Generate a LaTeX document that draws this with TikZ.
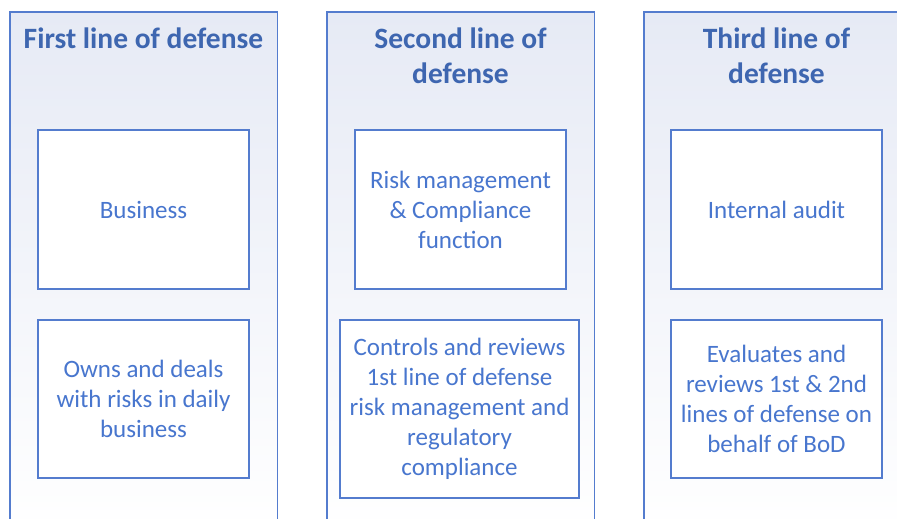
\documentclass[tikz,border=0pt]{standalone}
\usepackage{fontspec}
\setmainfont{Carlito}
\definecolor{lineblue}{RGB}{84,124,206}
\definecolor{headblue}{RGB}{62,102,176}
\definecolor{textblue}{RGB}{72,118,206}
\definecolor{colbg}{RGB}{230,234,245}
\begin{document}
\begin{tikzpicture}[x=1pt,y=-1pt,
  column/.style={rectangle, anchor=north west, inner sep=0pt, top color=colbg, bottom color=white, minimum width=267pt, minimum height=520pt},
  colframe/.style={draw=lineblue, line width=1.5pt},
  heading/.style={font=\fontsize{29.5}{35}\selectfont\bfseries, text=headblue, align=center},
  card/.style={rectangle, draw=lineblue, line width=1.5pt, fill=white, inner sep=0pt, align=center,
    font=\fontsize{25}{30}\selectfont, text=textblue}]
\clip (0,0) rectangle (897,519);
\fill[white] (0,0) rectangle (897,519);

% three vertical columns, open at the bottom
\node[column] (c1) at (10,12) {};
\node[column] (c2) at (327,12) {};
\node[column] (c3) at (644,12) {};
\foreach \c in {c1,c2,c3}
  \draw[colframe] (\c.south west) -- (\c.north west) -- (\c.north east) -- (\c.south east);

% column headings
\node[heading] (h1) at (143.5,38) {First line of defense};
\node[heading] (h2) at (460.5,55.5) {Second line of\\defense};
\node[heading] (h3) at (776.5,55.5) {Third line of\\defense};

% first line of defense
\node[card, minimum width=211pt, minimum height=159pt] (b1) at (143.5,209.5) {Business};
\node[card, minimum width=211pt, minimum height=158pt] (d1) at (143.5,399) {Owns and deals\\with risks in daily\\business};

% second line of defense
\node[card, minimum width=211pt, minimum height=159pt] (b2) at (460.5,209.5) {Risk management\\\& Compliance\\function};
\node[card, minimum width=239pt, minimum height=178pt] (d2) at (459.5,409) {Controls and reviews\\1st line of defense\\risk management and\\regulatory\\compliance};

% third line of defense
\node[card, minimum width=211pt, minimum height=159pt] (b3) at (776.5,209.5) {Internal audit};
\node[card, minimum width=211pt, minimum height=158pt] (d3) at (776.5,399) {Evaluates and\\reviews 1st \& 2nd\\lines of defense on\\behalf of BoD};
\end{tikzpicture}
\end{document}
